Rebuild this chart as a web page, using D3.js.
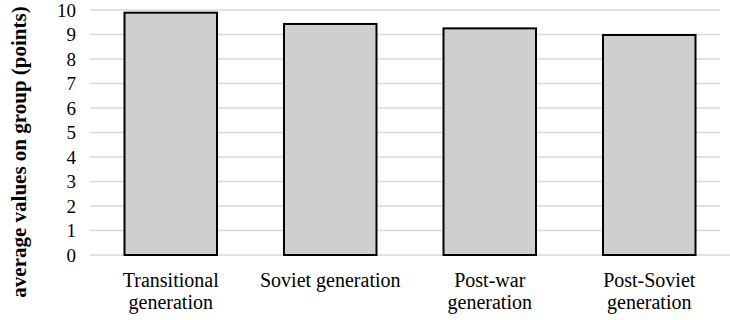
<!DOCTYPE html>
<html><head><meta charset="utf-8">
<script src="https://cdn.jsdelivr.net/npm/d3@7"></script>
<style>body{margin:0;background:#fff;}svg{display:block;}</style>
</head><body>
<svg id="c" width="730" height="320"></svg>
<script>
const categories = [["Transitional","generation"],["Soviet generation"],["Post-war","generation"],["Post-Soviet","generation"]];
const values = [9.89, 9.43, 9.25, 8.98];
const yTicks = [0,1,2,3,4,5,6,7,8,9,10];
const yTitle = "average values on group (points)";
const FONT = "'Liberation Serif', 'Times New Roman', serif";

const svg = d3.select("#c");
const m = {left: 91, right: 1, top: 10, bottom: 65};
const W = 730, H = 320;
const x = d3.scaleBand().domain(d3.range(categories.length)).range([m.left, W - m.right]).paddingInner(0.42).paddingOuter(0.21);
const y = d3.scaleLinear().domain([0, 10]).range([H - m.bottom, m.top]);

svg.selectAll("line.grid").data(yTicks).join("line")
  .attr("x1", m.left - 1).attr("x2", d => d === 0 ? W : W - 10)
  .attr("y1", d => y(d)).attr("y2", d => y(d))
  .attr("stroke", "#d9d9d9").attr("stroke-width", 1.5);

const yAxis = d3.axisLeft(y).tickValues(yTicks).tickSize(0).tickPadding(0);
const ya = svg.append("g").attr("transform", `translate(${m.left - 15},0)`).call(yAxis);
ya.attr("font-family", null);
ya.select(".domain").remove();
ya.selectAll("text").style("font-family", FONT).style("font-size", "19px").attr("fill", "#000").attr("dy", "0.33em");

svg.selectAll("rect.bar").data(values).join("rect")
  .attr("x", (d, i) => x(i)).attr("width", x.bandwidth())
  .attr("y", d => y(d)).attr("height", d => y(0) - y(d))
  .attr("fill", "#d0cfd0").attr("stroke", "#000").attr("stroke-width", 2);

svg.selectAll("text.cat").data(categories).join("text")
  .attr("text-anchor", "middle")
  .style("font-family", FONT).style("font-size", "20px").attr("fill", "#000")
  .each(function(d, i) {
    const t = d3.select(this);
    d.forEach((line, j) => {
      t.append("tspan").attr("x", x(i) + x.bandwidth() / 2).attr("y", 287 + j * 21.5).text(line);
    });
  });

svg.append("text")
  .attr("transform", `translate(26,${152}) rotate(-90)`)
  .attr("text-anchor", "middle")
  .style("font-family", FONT).style("font-size", "21px").style("font-weight", "bold").attr("fill", "#000")
  .text(yTitle);
</script>
</body></html>
